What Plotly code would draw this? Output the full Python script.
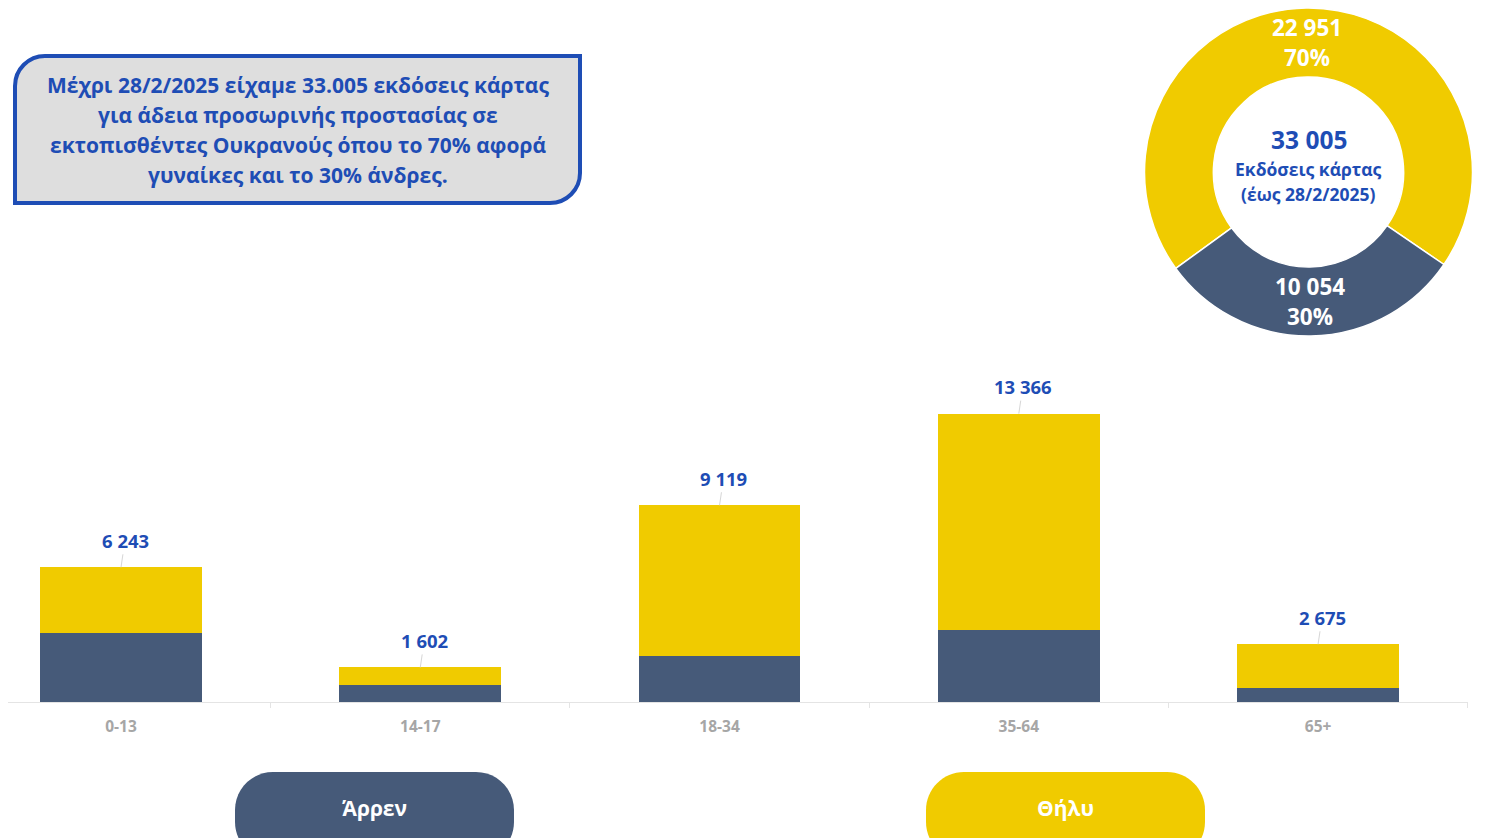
import math
import plotly.graph_objects as go

# ---------------- data ----------------
age_groups = ["0-13", "14-17", "18-34", "35-64", "65+"]
totals = [6243, 1602, 9119, 13366, 2675]
male = [3177, 799, 2120, 3325, 633]
female = [t - m for t, m in zip(totals, male)]

donut_labels = ["Θήλυ", "Άρρεν"]
donut_values = [22951, 10054]
donut_total = 33005

box_lines = [
    "Μέχρι 28/2/2025 είχαμε 33.005 εκδόσεις κάρτας",
    "για άδεια προσωρινής προστασίας σε",
    "εκτοπισθέντες Ουκρανούς όπου το 70% αφορά",
    "γυναίκες και το 30% άνδρες.",
]
center_lines = ["Εκδόσεις κάρτας", "(έως 28/2/2025)"]
legend_names = ["Άρρεν", "Θήλυ"]

# ---------------- style ----------------
OFF = 8                      # page body margin
W, H = 1486 - OFF, 838 - OFF
YELLOW = "#F0CB00"
SLATE = "#465A79"
BLUE = "#1E4DB5"
FONT = "Open Sans"


def X(px):
    return (px - OFF) / W


def Y(py):
    return 1 - (py - OFF) / H


def fmt(v):
    return f"{v:,}".replace(",", " ")


def rounded_path(x0, y0, x1, y1, rtl=0, rtr=0, rbr=0, rbl=0):
    k = 0.5523

    def pt(x, y):
        return f"{X(x):.5f},{Y(y):.5f}"
    p = ["M " + pt(x0, y0 + rtl)]
    if rtl:
        p.append("C " + pt(x0, y0 + rtl * (1 - k)) + " " + pt(x0 + rtl * (1 - k), y0) + " " + pt(x0 + rtl, y0))
    p.append("L " + pt(x1 - rtr, y0))
    if rtr:
        p.append("C " + pt(x1 - rtr * (1 - k), y0) + " " + pt(x1, y0 + rtr * (1 - k)) + " " + pt(x1, y0 + rtr))
    p.append("L " + pt(x1, y1 - rbr))
    if rbr:
        p.append("C " + pt(x1, y1 - rbr * (1 - k)) + " " + pt(x1 - rbr * (1 - k), y1) + " " + pt(x1 - rbr, y1))
    p.append("L " + pt(x0 + rbl, y1))
    if rbl:
        p.append("C " + pt(x0 + rbl * (1 - k), y1) + " " + pt(x0, y1 - rbl * (1 - k)) + " " + pt(x0, y1 - rbl))
    p.append("Z")
    return " ".join(p)


fig = go.Figure()

fig.add_trace(go.Bar(
    x=age_groups, y=male, name=legend_names[0],
    marker=dict(color=SLATE, line=dict(width=0)), width=0.541,
    hoverinfo="x+y",
))
fig.add_trace(go.Bar(
    x=age_groups, y=female, name=legend_names[1],
    marker=dict(color=YELLOW, line=dict(width=0)), width=0.541,
    hoverinfo="x+y",
))

PIE_CX, PIE_CY, PIE_R = 1308.5, 172, 164
ROT = 234
fig.add_trace(go.Pie(
    labels=donut_labels, values=donut_values, hole=0.58, sort=False,
    direction="clockwise", rotation=ROT,
    marker=dict(colors=[YELLOW, SLATE], line=dict(color="white", width=1.5)),
    textinfo="none",
    domain=dict(x=[X(PIE_CX - PIE_R), X(PIE_CX + PIE_R)], y=[Y(PIE_CY + PIE_R), Y(PIE_CY - PIE_R)]),
    showlegend=False,
))

annotations = []

# donut slice labels (placed at the middle of each slice, mid-ring)
tot = sum(donut_values)
cum = 0
for v in donut_values:
    mid = math.radians(ROT + 360 * (cum + v / 2) / tot)
    cum += v
    r = 130
    lx = PIE_CX + r * math.sin(mid)
    ly = PIE_CY - r * math.cos(mid)
    pct = f"{round(100 * v / tot)}%"
    for dy, txt in ((-15, fmt(v)), (15, pct)):
        annotations.append(dict(
            x=X(lx), y=Y(ly + dy), xref="paper", yref="paper",
            text=f"<b>{txt}</b>", showarrow=False, xanchor="center", yanchor="middle",
            font=dict(family=FONT, size=22.5, color="white"),
        ))

# totals above bars
for g, t in zip(age_groups, totals):
    annotations.append(dict(
        x=g, y=t, xref="x", yref="y", text=f"<b>{fmt(t)}</b>",
        showarrow=True, arrowhead=0, arrowwidth=1, arrowcolor="#D6D6D6",
        ax=4, ay=-27, standoff=0, xanchor="center", yanchor="middle",
        font=dict(family=FONT, size=18.5, color=BLUE),
    ))

# text box
for i, line in enumerate(box_lines):
    annotations.append(dict(
        x=X(298), y=Y(85 + 30 * i), xref="paper", yref="paper",
        text=f"<b>{line}</b>", showarrow=False, xanchor="center", yanchor="middle",
        font=dict(family=FONT, size=21, color=BLUE),
    ))

# donut centre
annotations.append(dict(
    x=X(PIE_CX), y=Y(139), xref="paper", yref="paper", text=f"<b>{fmt(donut_total)}</b>",
    showarrow=False, xanchor="center", yanchor="middle",
    font=dict(family=FONT, size=24.5, color=BLUE),
))
for i, line in enumerate(center_lines):
    annotations.append(dict(
        x=X(PIE_CX), y=Y(169 + 25 * i), xref="paper", yref="paper", text=f"<b>{line}</b>",
        showarrow=False, xanchor="center", yanchor="middle",
        font=dict(family=FONT, size=17.5, color=BLUE),
    ))

# legend pills
pill_x = [(235, 514), (926, 1205)]
pill_colors = [SLATE, YELLOW]
shapes = []
for (x0, x1), c, name in zip(pill_x, pill_colors, legend_names):
    shapes.append(dict(
        type="path", xref="paper", yref="paper",
        path=rounded_path(x0, 772, x1, 860, 38, 38, 38, 38),
        fillcolor=c, line=dict(width=0), layer="below",
    ))
    annotations.append(dict(
        x=X((x0 + x1) / 2), y=Y(808), xref="paper", yref="paper",
        text=f"<b>{name}</b>", showarrow=False, xanchor="center", yanchor="middle",
        font=dict(family=FONT, size=21, color="white"),
    ))

# info box shape
shapes.append(dict(
    type="path", xref="paper", yref="paper",
    path=rounded_path(15, 56, 580, 203, rtl=30, rbr=30),
    fillcolor="#DEDEDE", line=dict(color=BLUE, width=4), layer="below",
))

fig.update_layout(
    width=W, height=H,
    margin=dict(l=0, r=0, t=0, b=0),
    paper_bgcolor="white", plot_bgcolor="white",
    barmode="stack", showlegend=False,
    font=dict(family=FONT),
    xaxis=dict(
        domain=[0, X(1468)], range=[(OFF - 121) / 299.25, 4.501], type="category",
        showline=True, linecolor="#E4E4E4", linewidth=1,
        ticks="outside", tickson="boundaries", ticklen=5, tickcolor="#E4E4E4",
        showgrid=False, zeroline=False, fixedrange=True,
        tickfont=dict(family=FONT, size=15.5, color="#A6A6A6", weight="bold"),
        ticklabelstandoff=10,
    ),
    yaxis=dict(
        domain=[Y(702), Y(335.2)], range=[0, 17000],
        visible=False, showgrid=False, zeroline=False, fixedrange=True,
    ),
    annotations=annotations,
    shapes=shapes,
)

fig.write_html("out.html")
